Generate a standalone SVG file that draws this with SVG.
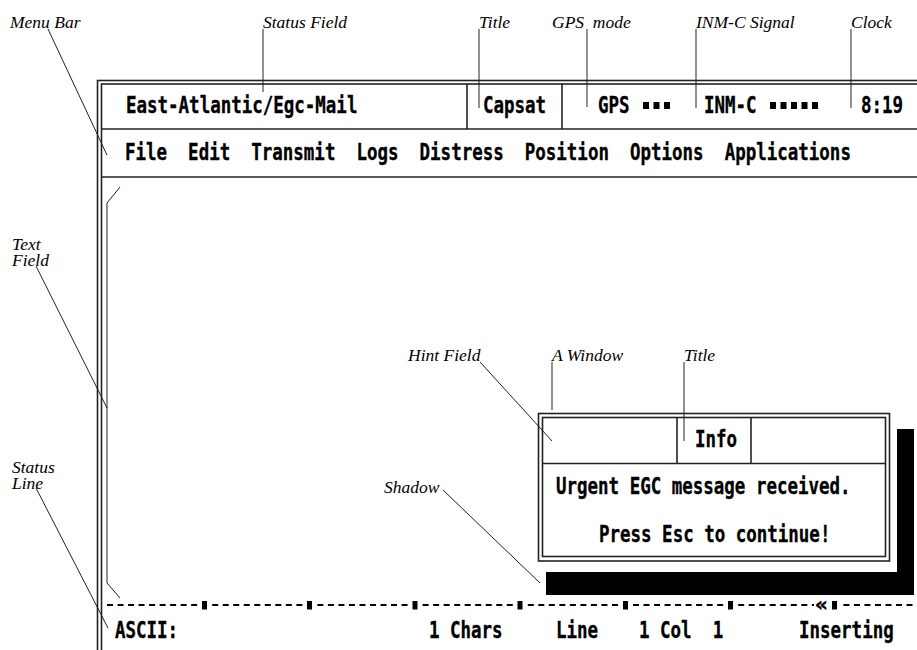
<svg xmlns="http://www.w3.org/2000/svg" width="917" height="650" viewBox="0 0 917 650">
<style>
.t{font-family:"DejaVu Sans Mono","Liberation Mono",monospace;font-weight:bold;font-size:22.5px;fill:#000;stroke:#000;stroke-width:0.35;white-space:pre}
.lb{font-family:"Liberation Serif","Times New Roman",serif;font-style:italic;font-size:17.5px;fill:#000;white-space:pre}
.fr{fill:none;stroke:#222;stroke-width:1.6}
.ld{fill:none;stroke:#222;stroke-width:1}
.sq{fill:#000}
</style>
<rect width="917" height="650" fill="#fff"/>

<g id="screen">
  <rect class="fr" x="97.5" y="80.5" width="840" height="600"/>
  <rect class="fr" x="101.5" y="84" width="840" height="600"/>
</g>

<g id="status-bar">
  <line class="fr" x1="101.5" y1="129" x2="917" y2="129"/>
  <line class="fr" x1="467" y1="84" x2="467" y2="129"/>
  <line class="fr" x1="562" y1="84" x2="562" y2="129"/>
  <text class="t" x="126" y="113" textLength="231.4" lengthAdjust="spacingAndGlyphs">East-Atlantic/Egc-Mail</text>
  <text class="t" x="483" y="113" textLength="63.1" lengthAdjust="spacingAndGlyphs">Capsat</text>
  <text class="t" x="598" y="113" textLength="31.6" lengthAdjust="spacingAndGlyphs">GPS</text>
  <rect class="sq" x="643" y="102" width="6" height="7"/>
  <rect class="sq" x="653.5" y="102" width="6" height="7"/>
  <rect class="sq" x="664" y="102" width="6" height="7"/>
  <text class="t" x="704" y="113" textLength="52.6" lengthAdjust="spacingAndGlyphs">INM-C</text>
  <rect class="sq" x="770" y="102" width="6" height="7"/>
  <rect class="sq" x="780.5" y="102" width="6" height="7"/>
  <rect class="sq" x="791" y="102" width="6" height="7"/>
  <rect class="sq" x="801.5" y="102" width="6" height="7"/>
  <rect class="sq" x="812" y="102" width="6" height="7"/>
  <text class="t" x="861" y="113" textLength="42.1" lengthAdjust="spacingAndGlyphs">8:19</text>
</g>

<g id="menu-bar">
  <line class="fr" x1="101.5" y1="177" x2="917" y2="177"/>
  <text class="t" x="125" y="160" textLength="725.9" lengthAdjust="spacingAndGlyphs">File  Edit  Transmit  Logs  Distress  Position  Options  Applications</text>
</g>

<g id="text-field">
  <path class="ld" d="M120,187 L107,203 L107,583 L120,598"/>
</g>

<g id="window">
  <rect class="fr" x="538.5" y="413.5" width="351" height="147.5"/>
  <rect class="fr" x="542.5" y="417.5" width="343" height="139"/>
  <line class="fr" x1="542.5" y1="463.5" x2="885.5" y2="463.5"/>
  <line class="fr" x1="677" y1="417.5" x2="677" y2="463.5"/>
  <line class="fr" x1="751" y1="417.5" x2="751" y2="463.5"/>
  <text class="t" x="695" y="447" textLength="42.1" lengthAdjust="spacingAndGlyphs">Info</text>
  <text class="t" x="556" y="494" textLength="294.6" lengthAdjust="spacingAndGlyphs">Urgent EGC message received.</text>
  <text class="t" x="599" y="542" textLength="231.4" lengthAdjust="spacingAndGlyphs">Press Esc to continue!</text>
</g>

<g id="shadow">
  <path fill="#000" d="M546,572 H897 V429 H914 V595 H546 Z"/>
</g>

<g id="status-line">
  <g stroke="#000" stroke-width="2" stroke-dasharray="6 4.52">
    <line x1="107" y1="605" x2="201.5" y2="605"/>
    <line x1="212.2" y1="605" x2="306.7" y2="605"/>
    <line x1="317.4" y1="605" x2="411.9" y2="605"/>
    <line x1="422.6" y1="605" x2="517.1" y2="605"/>
    <line x1="527.8" y1="605" x2="622.3" y2="605"/>
    <line x1="633" y1="605" x2="727.5" y2="605"/>
    <line x1="738.2" y1="605" x2="814" y2="605"/>
    <line x1="843.4" y1="605" x2="917" y2="605"/>
  </g>
  <rect class="sq" x="202" y="601" width="5" height="8.5"/>
  <rect class="sq" x="307" y="601" width="5" height="8.5"/>
  <rect class="sq" x="412.5" y="601" width="5" height="8.5"/>
  <rect class="sq" x="517.5" y="601" width="5" height="8.5"/>
  <rect class="sq" x="623" y="601" width="5" height="8.5"/>
  <rect class="sq" x="728" y="601" width="5" height="8.5"/>
  <rect class="sq" x="832" y="601" width="5" height="8.5"/>
  <text class="t" x="815" y="611" style="font-size:19px" textLength="13" lengthAdjust="spacingAndGlyphs">«</text>
  <text class="t" x="115" y="638" textLength="63.1" lengthAdjust="spacingAndGlyphs">ASCII:</text>
  <text class="t" x="429" y="638" textLength="73.6" lengthAdjust="spacingAndGlyphs">1 Chars</text>
  <text class="t" x="556" y="638" textLength="42.1" lengthAdjust="spacingAndGlyphs">Line</text>
  <text class="t" x="639" y="638" textLength="84.2" lengthAdjust="spacingAndGlyphs">1 Col  1</text>
  <text class="t" x="799" y="638" textLength="94.7" lengthAdjust="spacingAndGlyphs">Inserting</text>
</g>

<g id="labels">
  <text class="lb" x="10" y="28">Menu Bar</text>
  <text class="lb" x="263" y="28">Status Field</text>
  <text class="lb" x="479" y="28">Title</text>
  <text class="lb" x="552" y="28">GPS  mode</text>
  <text class="lb" x="696" y="28">INM-C Signal</text>
  <text class="lb" x="851" y="28">Clock</text>
  <text class="lb" x="12" y="250">Text</text>
  <text class="lb" x="12" y="266">Field</text>
  <text class="lb" x="12" y="473">Status</text>
  <text class="lb" x="12" y="489">Line</text>
  <text class="lb" x="408" y="361">Hint Field</text>
  <text class="lb" x="552" y="361">A Window</text>
  <text class="lb" x="684" y="361">Title</text>
  <text class="lb" x="384" y="493">Shadow</text>
</g>

<g id="connectors">
  <line class="ld" x1="48" y1="29" x2="107" y2="155"/>
  <line class="ld" x1="263" y1="29" x2="263" y2="92"/>
  <line class="ld" x1="479" y1="29" x2="479" y2="108"/>
  <line class="ld" x1="587" y1="29" x2="587" y2="107"/>
  <line class="ld" x1="696" y1="29" x2="696" y2="108"/>
  <line class="ld" x1="851" y1="29" x2="851" y2="108"/>
  <line class="ld" x1="36" y1="266" x2="107" y2="408"/>
  <line class="ld" x1="36" y1="488" x2="108" y2="628"/>
  <line class="ld" x1="480" y1="362" x2="552" y2="441"/>
  <line class="ld" x1="552" y1="362" x2="552" y2="410"/>
  <line class="ld" x1="684" y1="362" x2="684" y2="441"/>
  <line class="ld" x1="443" y1="490" x2="540" y2="583"/>
</g>
</svg>
